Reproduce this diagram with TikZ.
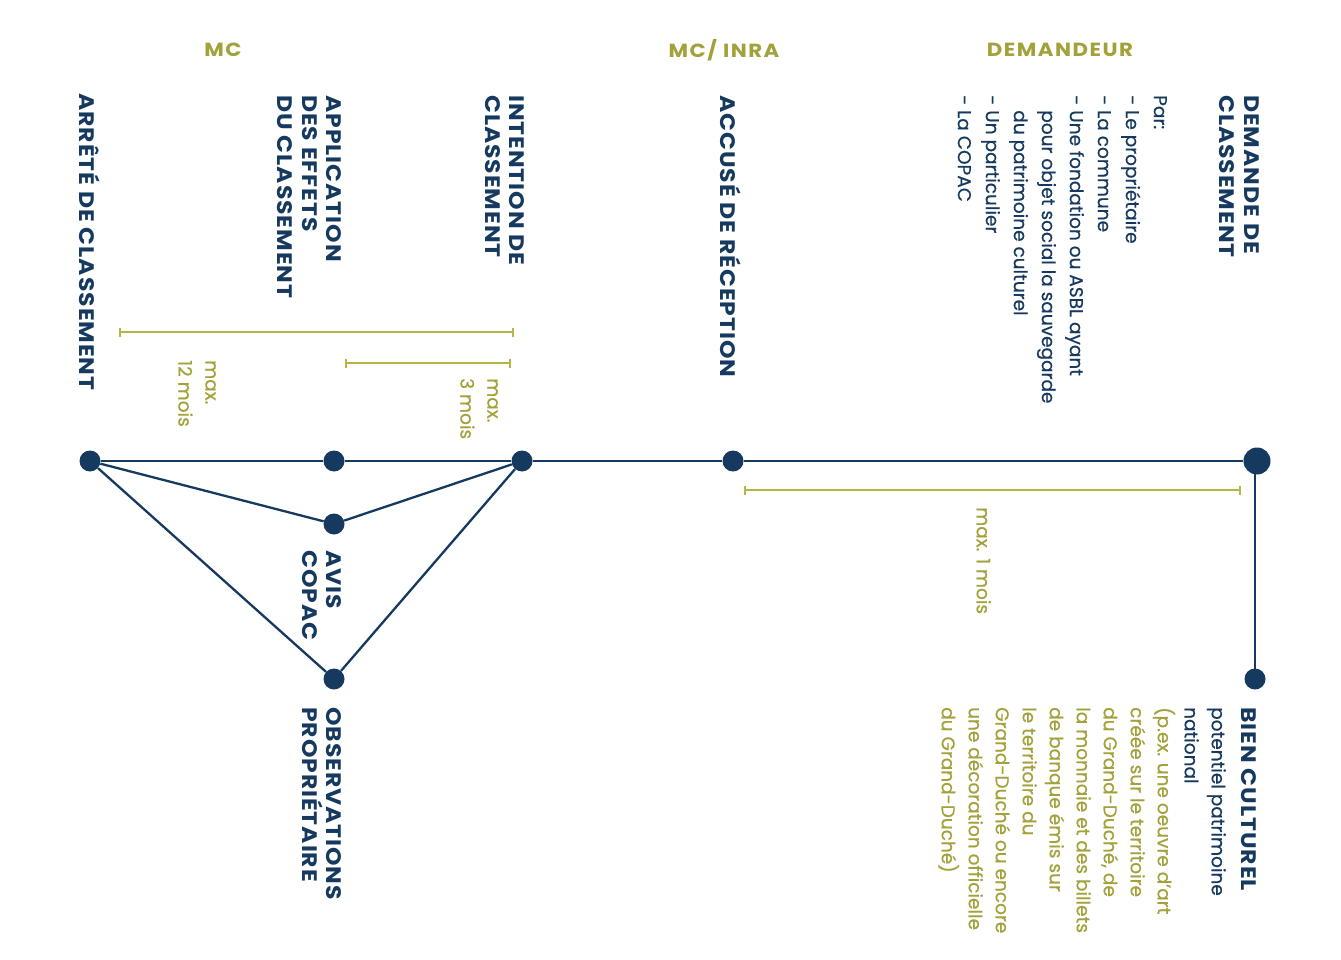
\documentclass[tikz,border=0pt]{standalone}
\usepackage{fontspec}
\setmainfont{Poppins}[FakeBold=0.5]
\newfontfamily\lblfont{Poppins}[FakeStretch=1.12,LetterSpace=4.5]
\newfontfamily\hdrfont{Poppins}[FakeStretch=1.12,LetterSpace=8]
\usetikzlibrary{arrows.meta}
\definecolor{navy}{HTML}{163A5F}
\definecolor{olive}{HTML}{A3A13A}
\definecolor{lime}{HTML}{B8B545}
\tikzset{
  dot/.style={circle,fill=navy,inner sep=0,minimum size=21pt},
  bigdot/.style={circle,fill=navy,inner sep=0,minimum size=27pt},
  lbl/.style={rotate=-90,anchor=north west,inner sep=0,align=left,text=navy,font=\fontsize{21}{24.5}\selectfont\lblfont\bfseries},
  txt/.style={rotate=-90,anchor=north west,inner sep=0,align=left,font=\fontsize{18.5}{28}\selectfont},
  hdr/.style={text=olive,font=\fontsize{19}{22}\selectfont\hdrfont\bfseries},
  link/.style={navy,line width=2.3pt},
  span/.style={lime,line width=1.6pt,{Bar[width=9pt,line width=1.6pt]}-{Bar[width=9pt,line width=1.6pt]}}
}
\begin{document}
\begin{tikzpicture}[x=1pt,y=-1pt]
\useasboundingbox[fill=white] (0,0) rectangle (1341,960);
% headers
\node[hdr] (hmc) at (223,50) {MC};
\node[hdr] (hinra) at (724,50) {MC/ INRA};
\node[hdr] (hdem) at (1060,50) {DEMANDEUR};
% dots
\node[dot] (arr) at (90,461) {};
\node[dot] (app) at (334,461) {};
\node[dot] (int) at (522,461) {};
\node[dot] (acc) at (733,461) {};
\node[bigdot] (dem) at (1257,461) {};
\node[dot] (bien) at (1255,679) {};
\node[dot] (avis) at (334,524) {};
\node[dot] (obs) at (334,679) {};
% connectors
\draw[link] (arr) -- (app) -- (int) -- (acc) -- (dem);
\draw[link] (dem.center) ++(-2,0) |- (bien);
\draw[link] (arr) -- (avis) -- (int);
\draw[link] (arr) -- (obs) -- (int);
% spans
\coordinate (s12a) at (119,332); \coordinate (s12b) at (514,332);
\coordinate (s3a) at (345,363); \coordinate (s3b) at (511,363);
\coordinate (s1a) at (744,490); \coordinate (s1b) at (1241,490);
\draw[span] (s12a) -- (s12b);
\draw[span] (s3a) -- (s3b);
\draw[span] (s1a) -- (s1b);
% span labels
\node[txt,text=olive,font=\fontsize{18.5}{27}\selectfont] (l12) at (216,360) {max.\\12 mois};
\node[txt,text=olive,font=\fontsize{18.5}{27}\selectfont] (l3) at (498,378) {max.\\3 mois};
\node[txt,text=olive,font=\fontsize{18.5}{27}\selectfont] (l1) at (991,507) {max. 1 mois};
% labels
\node[lbl] (tdem) at (1259,95) {DEMANDE DE\\CLASSEMENT};
\node[txt,text=navy] (tpar) at (1167,95) {Par:\\- Le propriétaire\\- La commune\\- Une fondation ou ASBL ayant\\\phantom{- }pour objet social la sauvegarde\\\phantom{- }du patrimoine culturel\\- Un particulier\\- La COPAC};
\node[lbl] (tacc) at (741,95) {ACCUSÉ DE RÉCEPTION};
\node[lbl] (tint) at (525,95) {INTENTION DE\\CLASSEMENT};
\node[lbl] (tapp) at (342,95) {APPLICATION\\DES EFFETS\\DU CLASSEMENT};
\node[lbl] (tarr) at (100,93) {ARRÊTÉ DE CLASSEMENT};
\node[lbl] (tavis) at (342,550) {AVIS\\COPAC};
\node[lbl] (tobs) at (342,707) {OBSERVATIONS\\PROPRIÉTAIRE};
\node[lbl] (tbien) at (1257,707) {BIEN CULTUREL};
\node[txt,text=navy,font=\fontsize{18.5}{27}\selectfont] (tbody) at (1226,707) {potentiel patrimoine\\national\\\color{olive}(p.ex. une oeuvre d'art\\\color{olive}créée sur le territoire\\\color{olive}du Grand-Duché, de\\\color{olive}la monnaie et des billets\\\color{olive}de banque émis sur\\\color{olive}le territoire du\\\color{olive}Grand-Duché ou encore\\\color{olive}une décoration officielle\\\color{olive}du Grand-Duché)};
\end{tikzpicture}
\end{document}
